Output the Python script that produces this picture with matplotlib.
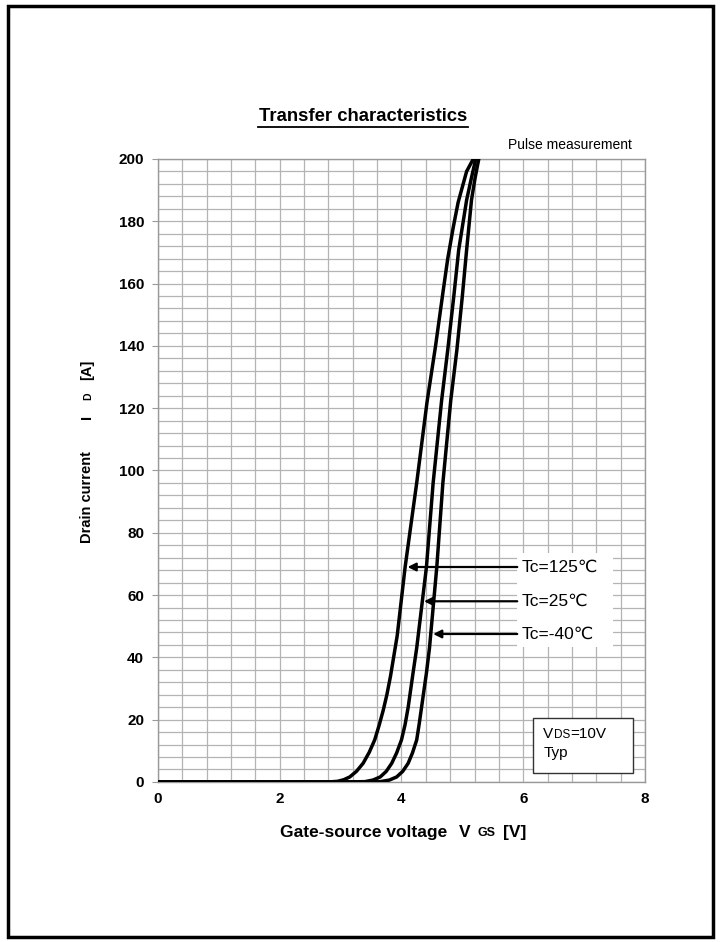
import matplotlib.pyplot as plt
from matplotlib.lines import Line2D
from matplotlib.patches import Rectangle
import numpy as np

plt.rcParams['font.family'] = ['Liberation Sans', 'DejaVu Sans']

# ---- data ---------------------------------------------------------
vgs_125 = [0, 1.0, 2.0, 2.8, 2.95, 3.05, 3.15, 3.26, 3.37, 3.47, 3.56, 3.63,
           3.70, 3.76, 3.82, 3.93, 4.06, 4.25, 4.42, 4.56, 4.68, 4.76, 4.85,
           4.93, 5.00, 5.07, 5.18]
id_125 = [0, 0, 0, 0, 0.2, 0.7, 1.6, 3.4, 6, 9.5, 13.5, 18,
          23, 28, 34, 47, 69, 96, 122, 140, 157, 168, 178,
          186, 191, 196, 200]

vgs_25 = [0, 1.0, 2.0, 3.0, 3.40, 3.53, 3.65, 3.75, 3.84, 3.92, 4.00, 4.06,
          4.11, 4.19, 4.25, 4.41, 4.52, 4.66, 4.76, 4.86, 4.94, 5.07, 5.15,
          5.22]
id_25 = [0, 0, 0, 0, 0.1, 0.6, 1.6, 3.4, 6, 9.3, 13.5, 18.5,
         24, 35, 43, 69, 96, 122.6, 138.7, 156, 170.8, 186.8, 194,
         200]

vgs_m40 = [0, 1.0, 2.0, 3.0, 3.65, 3.80, 3.92, 4.02, 4.11, 4.18, 4.25, 4.29,
           4.33, 4.41, 4.46, 4.58, 4.68, 4.81, 4.91, 5.00, 5.07, 5.15, 5.21,
           5.27]
id_m40 = [0, 0, 0, 0, 0.1, 0.6, 1.6, 3.4, 6, 9.3, 13.5, 18.5,
          24, 35, 43, 69, 96, 122.6, 138.7, 156, 170.8, 186.8, 194,
          200]

labels = ["Tc=125\u2103", "Tc=25\u2103", "Tc=-40\u2103"]
arrow_tips = [(4.10, 69), (4.37, 58), (4.52, 47.5)]

xticks = [0, 2, 4, 6, 8]
yticks = list(range(0, 201, 20))

# ---- figure ------------------------------------------------------
fig = plt.figure(figsize=(7.23, 9.42), dpi=100)
ax = fig.add_axes([0.2185, 0.1699, 0.6736, 0.6614])

ax.set_xlim(0, 8)
ax.set_ylim(0, 200)
ax.set_xticks(xticks)
ax.set_yticks(yticks)
ax.set_xticks(np.arange(0, 8.01, 0.4), minor=True)
ax.set_yticks(np.arange(0, 200.1, 4), minor=True)
ax.grid(which='both', color='#b4b4b4', linewidth=0.9)
ax.tick_params(which='minor', length=0)
ax.tick_params(axis='x', length=0, pad=7)
ax.tick_params(axis='y', length=4, color='#999999', pad=6)
for lbl in ax.get_xticklabels() + ax.get_yticklabels():
    lbl.set_fontweight('bold')
    lbl.set_fontsize(11)
for sp in ax.spines.values():
    sp.set_color('#999999')
    sp.set_linewidth(1.0)

for v, i in [(vgs_125, id_125), (vgs_25, id_25), (vgs_m40, id_m40)]:
    ax.plot(v, i, color='black', linewidth=2.5, solid_capstyle='round',
            solid_joinstyle='round', zorder=4)

# white patch behind the temperature labels
ax.add_patch(Rectangle((5.90, 43.3), 1.57, 30.2, facecolor='white',
                       edgecolor='none', zorder=3))
for lab, (tx, ty) in zip(labels, arrow_tips):
    ax.annotate(lab, xy=(tx, ty), xytext=(5.97, ty), fontsize=12.5,
                va='center', ha='left', zorder=5,
                arrowprops=dict(arrowstyle='-|>', color='black', lw=1.6,
                                mutation_scale=12, shrinkA=1, shrinkB=0))

# V_DS box
ax.add_patch(Rectangle((6.16, 2.9), 1.64, 17.6, facecolor='white',
                       edgecolor='#333333', linewidth=1.0, zorder=3))
ax.text(6.33, 15.5, "V", fontsize=11, va='center', zorder=5)
ax.text(6.50, 15.1, "DS", fontsize=8.5, va='center', zorder=5)
ax.text(6.77, 15.5, "=10V", fontsize=11, va='center', zorder=5)
ax.text(6.33, 9.3, "Typ", fontsize=11, va='center', zorder=5)

# titles and axis labels
fig.text(0.502, 0.876, "Transfer characteristics", fontsize=13.3,
         fontweight='bold', ha='center', va='center')
fig.add_artist(Line2D([0.357, 0.647], [0.865, 0.865], color='black',
                      linewidth=1.3))
fig.text(0.874, 0.846, "Pulse measurement", fontsize=10, ha='right',
         va='center')

fig.text(0.120, 0.472, "Drain current", rotation=90, fontsize=10.5,
         fontweight='bold', ha='center', va='center')
fig.text(0.120, 0.557, "I", rotation=90, fontsize=10.5, fontweight='bold',
         ha='center', va='center')
fig.text(0.122, 0.579, "D", rotation=90, fontsize=7.5, fontweight='bold',
         ha='center', va='center')
fig.text(0.120, 0.607, "[A]", rotation=90, fontsize=10.5, fontweight='bold',
         ha='center', va='center')

fig.text(0.3866, 0.116, "Gate-source voltage", fontsize=12.5,
         fontweight='bold', ha='left', va='center')
fig.text(0.635, 0.116, "V", fontsize=12.5, fontweight='bold', ha='left',
         va='center')
fig.text(0.660, 0.1155, "GS", fontsize=9, fontweight='bold', ha='left',
         va='center')
fig.text(0.696, 0.116, "[V]", fontsize=12.5, fontweight='bold', ha='left',
         va='center')

# outer frame
fig.add_artist(Rectangle((0.011, 0.005), 0.975, 0.989, fill=False,
                         edgecolor='black', linewidth=2.5,
                         transform=fig.transFigure))

fig.savefig("out.png", dpi=100)
